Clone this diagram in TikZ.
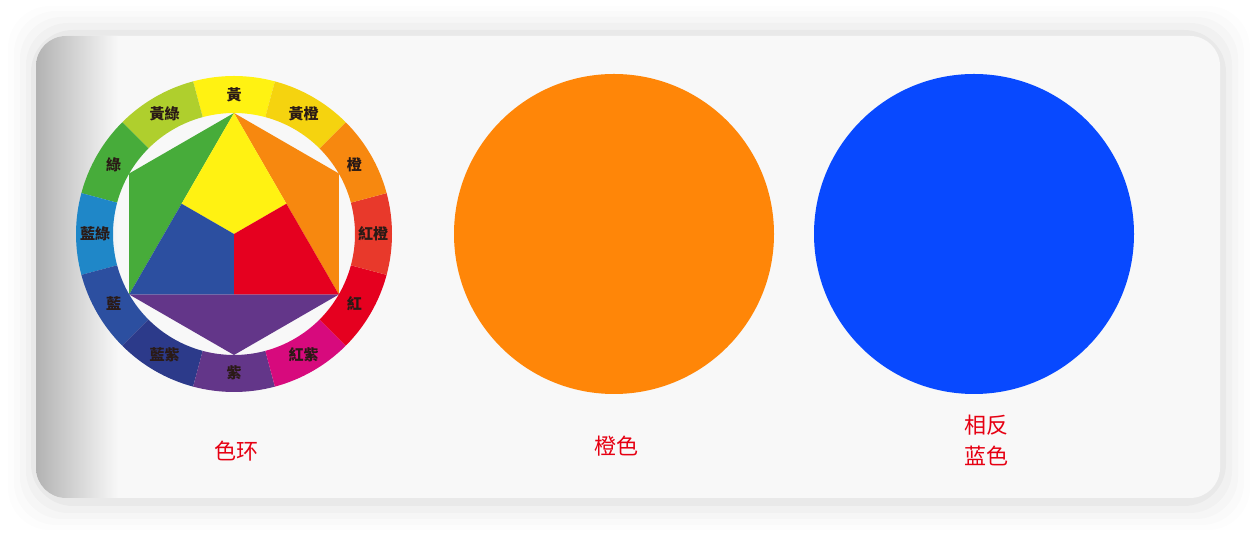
\documentclass[tikz,border=0pt]{standalone}
\usepackage{fontspec}
\newfontfamily\tcfont{Noto Sans CJK TC}
\newfontfamily\scfont{Noto Sans CJK SC}
\usepackage{tikz}
\usetikzlibrary{shapes}
\definecolor{cardbg}{HTML}{F8F8F8}
\definecolor{wtext}{HTML}{2A1A16}
\definecolor{capred}{HTML}{E60012}
\definecolor{wyellow}{HTML}{FFF212}
\definecolor{wyelgreen}{HTML}{AFCF2D}
\definecolor{wgreen}{HTML}{47AC3A}
\definecolor{wcyan}{HTML}{1F87C8}
\definecolor{wblue}{HTML}{2C4FA0}
\definecolor{windigo}{HTML}{2C3A8A}
\definecolor{wpurple}{HTML}{633689}
\definecolor{wmagenta}{HTML}{D70A7D}
\definecolor{wred}{HTML}{E5001F}
\definecolor{wredorange}{HTML}{E8392B}
\definecolor{worange}{HTML}{F7880F}
\definecolor{wyelorange}{HTML}{F5D30F}
\definecolor{discorange}{HTML}{FF8608}
\definecolor{discblue}{HTML}{0849FF}
\tikzstyle{shadowbox} = [fill=black, rounded corners=42]
\tikzstyle{ringlabel} = [text=wtext, inner sep=0pt, font=\tcfont\bfseries\fontsize{15}{15}\selectfont]
\tikzstyle{caption} = [text=capred, align=center, font=\scfont\fontsize{22}{31}\selectfont]
\tikzstyle{disc} = [circle, inner sep=0pt, minimum size=320pt]

\begin{document}
\begin{tikzpicture}[x=1pt, y=1pt]
    \useasboundingbox (0,0) rectangle (1256,534);

    % card and its shadow
    \fill[shadowbox, opacity=0.006] (8,4) rectangle (1250,528);
    \fill[shadowbox, opacity=0.01] (14,9) rectangle (1244,523);
    \fill[shadowbox, opacity=0.014] (20,15) rectangle (1238,517);
    \fill[shadowbox, opacity=0.02] (26,21) rectangle (1232,511);
    \fill[shadowbox, opacity=0.03] (31,28) rectangle (1226,504);
    \fill[cardbg, rounded corners=30] (36,36) rectangle (1220,498);
    \begin{scope}
        \clip[rounded corners=30] (36,36) rectangle (1220,498);
        \shade[left color=black!30, right color=cardbg] (36,36) rectangle (118,498);
    \end{scope}

    % colour wheel
    \begin{scope}[shift={(234,300)}]
        \coordinate (wc) at (0,0);
        \coordinate (htop) at (90:121);
        \coordinate (hul) at (150:121);
        \coordinate (hll) at (210:121);
        \coordinate (hbot) at (270:121);
        \coordinate (hlr) at (330:121);
        \coordinate (hur) at (30:121);
        \coordinate (mleft) at (-52.4,30.25);
        \coordinate (mright) at (52.4,30.25);
        \coordinate (mbot) at (0,-60.5);

        % ring
        \fill[wyellow] (75:121) arc[start angle=75, end angle=105, radius=121] -- (105:158) arc[start angle=105, end angle=75, radius=158] -- cycle;
        \fill[wyelgreen] (105:121) arc[start angle=105, end angle=135, radius=121] -- (135:158) arc[start angle=135, end angle=105, radius=158] -- cycle;
        \fill[wgreen] (135:121) arc[start angle=135, end angle=165, radius=121] -- (165:158) arc[start angle=165, end angle=135, radius=158] -- cycle;
        \fill[wcyan] (165:121) arc[start angle=165, end angle=195, radius=121] -- (195:158) arc[start angle=195, end angle=165, radius=158] -- cycle;
        \fill[wblue] (195:121) arc[start angle=195, end angle=225, radius=121] -- (225:158) arc[start angle=225, end angle=195, radius=158] -- cycle;
        \fill[windigo] (225:121) arc[start angle=225, end angle=255, radius=121] -- (255:158) arc[start angle=255, end angle=225, radius=158] -- cycle;
        \fill[wpurple] (255:121) arc[start angle=255, end angle=285, radius=121] -- (285:158) arc[start angle=285, end angle=255, radius=158] -- cycle;
        \fill[wmagenta] (285:121) arc[start angle=285, end angle=315, radius=121] -- (315:158) arc[start angle=315, end angle=285, radius=158] -- cycle;
        \fill[wred] (315:121) arc[start angle=315, end angle=345, radius=121] -- (345:158) arc[start angle=345, end angle=315, radius=158] -- cycle;
        \fill[wredorange] (-15:121) arc[start angle=-15, end angle=15, radius=121] -- (15:158) arc[start angle=15, end angle=-15, radius=158] -- cycle;
        \fill[worange] (15:121) arc[start angle=15, end angle=45, radius=121] -- (45:158) arc[start angle=45, end angle=15, radius=158] -- cycle;
        \fill[wyelorange] (45:121) arc[start angle=45, end angle=75, radius=121] -- (75:158) arc[start angle=75, end angle=45, radius=158] -- cycle;

        % hexagon
        \fill[wgreen] (htop) -- (hul) -- (hll) -- cycle;
        \fill[worange] (htop) -- (hur) -- (hlr) -- cycle;
        \fill[wpurple] (hll) -- (hbot) -- (hlr) -- cycle;
        \fill[wyellow] (htop) -- (mleft) -- (wc) -- (mright) -- cycle;
        \fill[wblue] (hll) -- (mleft) -- (wc) -- (mbot) -- cycle;
        \fill[wred] (hlr) -- (mright) -- (wc) -- (mbot) -- cycle;

        % ring labels
        \node[ringlabel] at (90:139) (lhuang) {黃};
        \node[ringlabel] at (120:139) (lhuanglv) {黃綠};
        \node[ringlabel] at (150:139) (llv) {綠};
        \node[ringlabel] at (180:139) (llanlv) {藍綠};
        \node[ringlabel] at (210:139) (llan) {藍};
        \node[ringlabel] at (240:139) (llanzi) {藍紫};
        \node[ringlabel] at (270:139) (lzi) {紫};
        \node[ringlabel] at (300:139) (lhongzi) {紅紫};
        \node[ringlabel] at (330:139) (lhong) {紅};
        \node[ringlabel] at (0:139) (lhongcheng) {紅橙};
        \node[ringlabel] at (30:139) (lcheng) {橙};
        \node[ringlabel] at (60:139) (lhuangcheng) {黃橙};
    \end{scope}

    % discs
    \node[disc, fill=discorange] at (614,300) (orangedisc) {};
    \node[disc, fill=discblue] at (974,300) (bluedisc) {};

    % captions
    \node[caption] at (236,83) (capwheel) {色环};
    \node[caption] at (616,88) (caporange) {橙色};
    \node[caption] at (986,94) (capblue) {相反\\蓝色};
\end{tikzpicture}
\end{document}
